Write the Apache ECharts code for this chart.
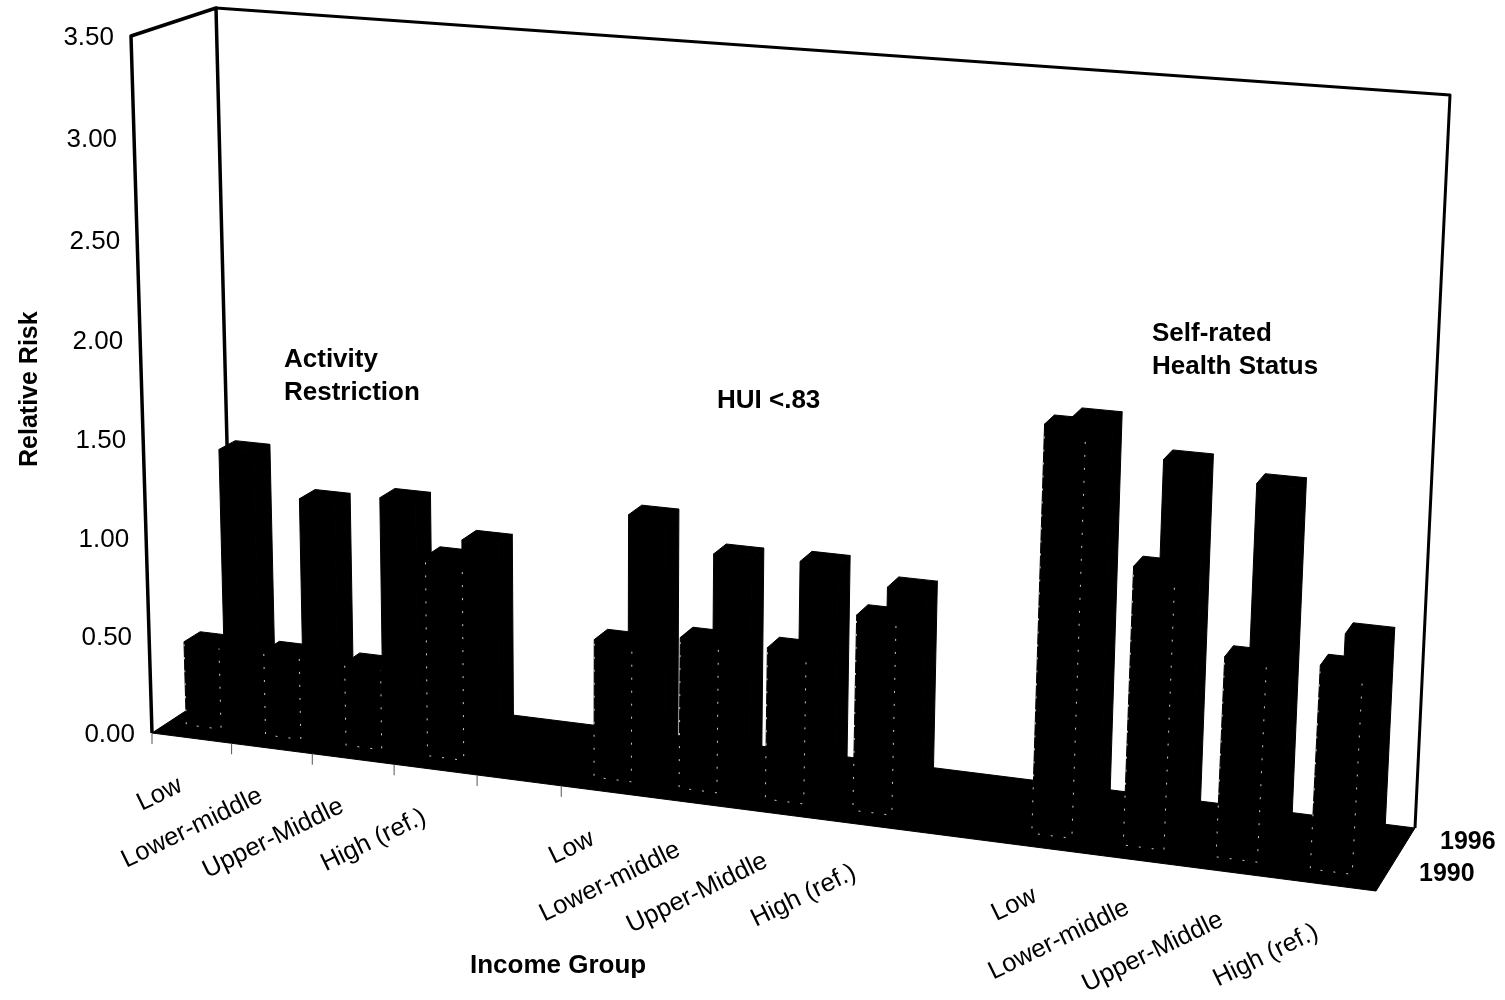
<!DOCTYPE html>
<html>
<head>
<meta charset="utf-8">
<style>
  html, body { margin: 0; padding: 0; background: #fff; }
  #chart { width: 1505px; height: 1000px; }
</style>
</head>
<body>
<div id="chart"></div>
<script src="https://cdn.jsdelivr.net/npm/echarts@6/dist/echarts.min.js"></script>
<script>
// x categories, blanks separate the three groups
const categories = ['Low', 'Lower-middle', 'Upper-Middle', 'High (ref.)', '',
                    'Low', 'Lower-middle', 'Upper-Middle', 'High (ref.)', '',
                    'Low', 'Lower-middle', 'Upper-Middle', 'High (ref.)'];
const values1990 = [0.43, 0.43, 0.42, 1.01, null, 0.69, 0.75, 0.75, 0.96, null, 1.97, 1.34, 0.96, 0.97];
const values1996 = [1.33, 1.12, 1.17, 1.00, null, 1.22, 1.07, 1.08, 1.00, null, 1.92, 1.76, 1.69, 1.02];
const yTicks = [0, 0.5, 1, 1.5, 2, 2.5, 3, 3.5];
// only the first few x ticks survive in the scan
const xTickPositions = [0, 1, 2, 3, 4, 5];
const seriesNames = ['1990', '1996'];

const FONT = '"Liberation Sans", Arial, sans-serif';
const YMAX = 3.5;
const NCAT = categories.length;

// corners of the 3d box on the page, f = front plane, b = back plane
const box = {
    fBL: [152, 733], fTL: [131, 36], fBR: [1376, 891], fTR: [1418, 131],
    bBL: [233, 680], bTL: [216, 8], bBR: [1415, 828], bTR: [1450, 95]
};
const lerp = (a, b, t) => [a[0] + (b[0] - a[0]) * t, a[1] + (b[1] - a[1]) * t];

// u, v are 0..1 from the grid, w is depth (0 front, 1 back)
function project(u, v, w) {
    const uu = u / (1.106 - 0.106 * u);
    const vv = v / (1.03 - 0.03 * v);
    const front = lerp(lerp(box.fBL, box.fBR, uu), lerp(box.fTL, box.fTR, uu), vv);
    const back = lerp(lerp(box.bBL, box.bBR, uu), lerp(box.bTL, box.bTR, uu), vv);
    return lerp(front, back, w);
}

// data space -> page, going through the axes of the grid
function toPage(params, api, x, y, w) {
    const cs = params.coordSys;
    const p = api.coord([x, y]);
    return project((p[0] - cs.x) / cs.width, 1 - (p[1] - cs.y) / cs.height, w);
}

function barItem(w0, w1, off0, off1, dashed) {
    return function (params, api) {
        const i = api.value(0), val = api.value(1);
        const x0 = i + off0, x1 = i + off1;
        const pt = (x, y, w) => toPage(params, api, x, y, w);
        const blk = { fill: '#000', stroke: '#000', lineWidth: 1 };
        const children = [
            { type: 'polygon', shape: { points: [pt(x1, 0, w0), pt(x1, 0, w1), pt(x1, val, w1), pt(x1, val, w0)] }, style: blk },
            { type: 'polygon', shape: { points: [pt(x0, val, w0), pt(x1, val, w0), pt(x1, val, w1), pt(x0, val, w1)] }, style: blk },
            { type: 'polygon', shape: { points: [pt(x0, 0, w0), pt(x1, 0, w0), pt(x1, val, w0), pt(x0, val, w0)] }, style: blk }
        ];
        if (dashed) {
            // the scan shows the front face edges as broken light dots
            children.push({
                type: 'polyline',
                shape: { points: [pt(x0, val * 0.97, w0), pt(x0, 0, w0), pt(x1, 0, w0), pt(x1, val * 0.97, w0)] },
                style: { fill: null, stroke: '#ccc', lineWidth: 1, lineDash: [2, 11] }
            });
        }
        return { type: 'group', children: children };
    };
}

function frameItem(params, api) {
    const pt = (x, y, w) => toPage(params, api, x, y, w);
    const line = (pts, lw) => ({
        type: 'polyline', shape: { points: pts },
        style: { fill: null, stroke: '#000', lineWidth: lw, lineJoin: 'round' }
    });
    return {
        type: 'group',
        children: [
            { type: 'polygon', shape: { points: [pt(0, 0, 0), pt(NCAT, 0, 0), pt(NCAT, 0, 1), pt(0, 0, 1)] }, style: { fill: '#000', stroke: '#000', lineWidth: 1 } },
            line([pt(0, 0, 0), pt(0, YMAX, 0), pt(0, YMAX, 1), pt(0, 0, 1)], 3.5),
            line([pt(0, YMAX, 1), pt(NCAT, YMAX, 1), pt(NCAT, 0, 1)], 3)
        ]
    };
}

function xTickItem(params, api) {
    const p = toPage(params, api, api.value(0), 0, 0);
    return { type: 'line', shape: { x1: p[0], y1: p[1], x2: p[0], y2: p[1] + 11 }, style: { stroke: '#555', lineWidth: 1 } };
}

function xLabelItem(params, api) {
    const i = api.value(0);
    const p = toPage(params, api, i + 0.5, 0, 0);
    return {
        type: 'text', x: p[0] - 11, y: p[1] + 46, rotation: 26 * Math.PI / 180,
        style: { text: categories[i], font: '25.5px ' + FONT, fill: '#000', align: 'right', verticalAlign: 'middle' }
    };
}

function yLabelItem(params, api) {
    const v = api.value(0);
    const p = toPage(params, api, 0, v, 0);
    return {
        type: 'text', x: p[0] - 17, y: p[1] + 2,
        style: { text: v.toFixed(2), font: '26px ' + FONT, fill: '#000', align: 'right', verticalAlign: 'middle' }
    };
}

const rows = arr => arr.map((v, i) => [i, v]).filter(d => d[1] !== null);
const boldText = (text, x, y, size, extra) => ({
    type: 'text', x: x, y: y, ...extra,
    style: { text: text, font: 'bold ' + size + 'px ' + FONT, fill: '#000', lineHeight: 33 }
});

const chart = echarts.init(document.getElementById('chart'));
chart.setOption({
    animation: false,
    backgroundColor: '#fff',
    grid: { left: 100, top: 100, width: 1200, height: 700 },
    xAxis: { type: 'value', min: 0, max: NCAT, show: false },
    yAxis: { type: 'value', min: 0, max: YMAX, show: false },
    graphic: [
        boldText('Activity\nRestriction', 284, 343, 26),
        boldText('HUI <.83', 717, 384, 26),
        boldText('Self-rated\nHealth Status', 1152, 317, 26),
        boldText(seriesNames[1], 1440, 826, 25),
        boldText(seriesNames[0], 1419, 858, 25),
        boldText('Income Group', 470, 949, 26),
        boldText('Relative Risk', 14, 467, 25, { rotation: Math.PI / 2 })
    ],
    series: [
        { type: 'custom', name: 'frame', data: [[0]], renderItem: frameItem, z: 1 },
        { type: 'custom', name: 'xticks', data: xTickPositions.map(i => [i]), renderItem: xTickItem, z: 1 },
        { type: 'custom', name: seriesNames[1], data: rows(values1996), renderItem: barItem(0.6, 0.8, 0.32, 0.76, false), z: 2 },
        { type: 'custom', name: seriesNames[0], data: rows(values1990), renderItem: barItem(0.2, 0.4, 0.23, 0.67, true), z: 3 },
        { type: 'custom', name: 'xlabels', data: categories.map((c, i) => [i]), renderItem: xLabelItem, z: 4 },
        { type: 'custom', name: 'ylabels', data: yTicks.map(v => [v]), renderItem: yLabelItem, z: 4 }
    ]
});
</script>
</body>
</html>
